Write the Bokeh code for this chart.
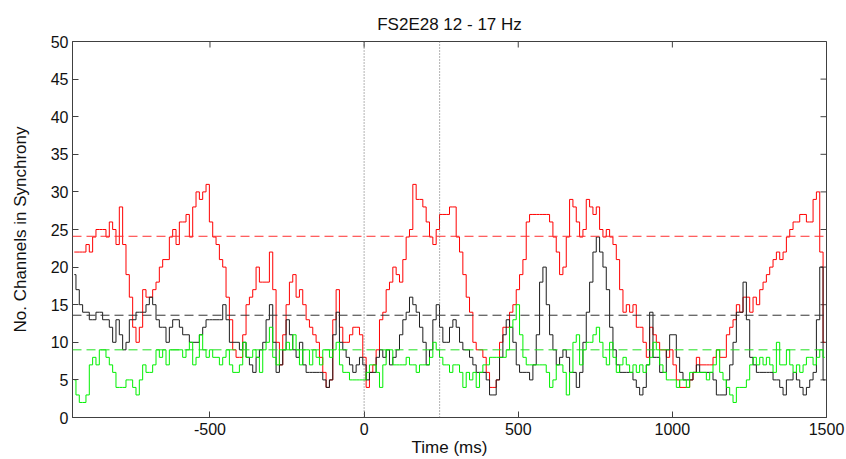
import numpy as np
from bokeh.plotting import figure
from bokeh.models import Span, FixedTicker, Range1d
from bokeh.embed import file_html
from bokeh.resources import INLINE

# ---------------- data ----------------
TITLE = "FS2E28 12 - 17 Hz"
X_LABEL = "Time (ms)"
Y_LABEL = "No. Channels in Synchrony"

X_MIN, X_MAX = -946, 1500
Y_MIN, Y_MAX = 0, 50
x_ticks = [-500, 0, 500, 1000, 1500]
x_tick_labels = {-500: "-500", 0: "0", 500: "500", 1000: "1000", 1500: "1500"}
y_ticks = [0, 5, 10, 15, 20, 25, 30, 35, 40, 45, 50]

# sampling of the traces (ms)
T0 = -940.2
DT = 10.82

red_counts = [
    22, 22, 22, 22, 23, 22, 24, 25, 25, 25,
    24, 26, 25, 23, 28, 23, 19, 16, 12, 10,
    12, 17, 16, 16, 17, 18, 20, 21, 21, 24,
    25, 23, 26, 26, 27, 24, 28, 30, 29, 30,
    31, 26, 24, 23, 21, 20, 16, 13, 9, 8,
    8, 11, 15, 16, 17, 20, 18, 18, 18, 22,
    17, 10, 7, 11, 15, 18, 19, 16, 17, 15,
    13, 12, 11, 10, 8, 6, 4, 5,
    13, 17, 12, 10, 10, 11, 12, 12, 11,
    8, 4, 6, 7, 9, 13, 14, 17, 18, 20,
    19, 18, 21, 24, 25, 31, 29, 29, 28, 26,
    24, 23, 25, 27, 27, 27, 28, 28, 24, 22,
    19, 16, 14, 10, 9, 9, 8, 6, 4, 4,
    5, 10, 12, 12, 14, 15, 17, 19, 21, 26,
    27, 27, 27, 27, 27, 27, 26, 24, 22, 19,
    20, 24, 29, 28, 26, 24,
    25, 29, 28, 27, 28, 25, 24, 25, 24,
    23, 21, 17, 14, 15, 14, 15, 12, 12, 10,
    8, 12, 11, 10, 9, 9, 8, 9, 7, 5,
    4, 4, 4, 5, 6, 8, 7, 7, 7, 7,
    8, 9, 8, 8, 11, 12, 13, 15, 14, 16,
    16, 14, 16, 15, 17, 18, 19, 20, 21, 22,
    21, 22, 24, 25, 26, 26, 27, 27, 26, 26,
    29, 30, 22, 10,
]

black_counts = [
    19, 17, 15, 14, 14, 13, 13, 14, 14, 13,
    13, 12, 10, 13, 11, 9, 10, 13, 13, 14,
    14, 14, 15, 16, 15, 13, 12, 12, 10, 12,
    13, 13, 12, 11, 11, 10, 10, 10, 11, 12,
    13, 13, 13, 13, 13, 15, 13, 10, 10, 10,
    9, 10, 8, 7, 6, 8, 9, 10, 13, 15,
    10, 6, 7, 9, 13, 11, 9, 8, 10, 7,
    6, 6, 6, 6, 6, 5, 4, 5,
    11, 14, 10, 9, 8, 7, 6, 7, 8,
    7, 5, 6, 6, 8, 9, 8, 9, 7, 8,
    9, 11, 13, 14, 16, 15, 14, 12, 10, 7,
    9, 13, 15, 12, 10, 10, 12, 13, 12, 10,
    9, 9, 8, 7, 6, 6, 6, 5, 3, 3,
    5, 8, 11, 13, 12, 10, 7, 6, 6, 6,
    5, 7, 11, 18, 20, 15, 11, 9, 7, 8,
    9, 8, 6, 6, 4, 6,
    10, 14, 18, 22, 24, 22, 20, 17, 12,
    9, 7, 6, 6, 6, 6, 5, 4, 3, 4,
    7, 14, 8, 8, 6, 6, 9, 11, 11, 8,
    6, 5, 5, 5, 6, 7, 6, 6, 6, 6,
    5, 3, 3, 3, 5, 7, 10, 14, 14, 18,
    13, 8, 7, 6, 6, 6, 6, 6, 5, 5,
    4, 3, 5, 5, 6, 5, 4, 3, 4, 5,
    6, 13, 20, 5,
]

green_counts = [
    5, 3, 2, 2, 3, 7, 8, 7, 9, 9,
    8, 7, 6, 4, 4, 4, 5, 5, 4, 3,
    5, 7, 6, 6, 7, 9, 8, 9, 7, 9,
    9, 9, 9, 8, 9, 10, 7, 8, 11, 9,
    8, 9, 8, 8, 7, 8, 9, 7, 6, 6,
    7, 10, 8, 8, 9, 8, 6, 9, 10, 12,
    8, 7, 9, 9, 10, 9, 11, 9, 7, 9,
    9, 7, 9, 8, 7, 9, 9, 8,
    9, 10, 7, 6, 6, 5, 5, 5, 5,
    5, 6, 7, 7, 6, 4, 7, 9, 9, 7,
    7, 7, 7, 8, 7, 7, 6, 7, 7, 7,
    8, 10, 9, 8, 7, 7, 6, 7, 7, 6,
    4, 6, 5, 6, 4, 6, 7, 7, 8, 8,
    8, 8, 8, 9, 12, 13, 15, 11, 8, 7,
    7, 7, 7, 7, 7, 6, 4, 5, 7, 7,
    6, 3, 6, 10, 11, 7,
    9, 10, 10, 11, 12, 10, 8, 7, 10,
    8, 6, 7, 8, 7, 6, 7, 6, 7, 6,
    7, 8, 10, 9, 7, 6, 5, 5, 5, 4,
    5, 5, 4, 6, 6, 6, 6, 6, 5, 6,
    7, 9, 6, 5, 4, 3, 2, 4, 4, 4,
    5, 7, 8, 7, 8, 7, 8, 7, 6, 10,
    7, 7, 9, 7, 6, 7, 6, 7, 8, 8,
    7, 8, 9, 8,
]

# mean levels (dashed) and event markers (dotted)
red_mean = 24.1
black_mean = 13.6
green_mean = 9.0
event_times = [0, 245]

RED = "#ff0000"
BLACK = "#1e1e1e"
GREEN = "#00f000"
AXIS = "#404040"
FONT = "Liberation Sans"

# ---------------- figure ----------------
p = figure(width=846, height=459, output_backend="svg", toolbar_location=None,
           x_range=Range1d(X_MIN, X_MAX), y_range=Range1d(Y_MIN, Y_MAX),
           min_border_left=72, min_border_right=20, min_border_top=41,
           min_border_bottom=42, title=TITLE)
p.background_fill_color = "white"
p.border_fill_color = "white"
p.grid.visible = False
p.outline_line_color = AXIS
p.outline_line_width = 1

p.title.align = "center"
p.title.text_font = FONT
p.title.text_font_size = "17px"
p.title.text_font_style = "normal"
p.title.text_color = "#111111"
p.title.standoff = 16

def style_axis(ax, ticks):
    ax.ticker = FixedTicker(ticks=ticks)
    ax.axis_line_color = AXIS
    ax.major_tick_line_color = AXIS
    ax.major_tick_in = 6
    ax.major_tick_out = 0
    ax.minor_tick_line_color = None
    ax.major_label_text_font = FONT
    ax.major_label_text_color = "#111111"
    ax.major_label_text_font_size = "16px"

xa = p.xaxis[0]
style_axis(xa, x_ticks)
xa.major_label_overrides = x_tick_labels
xa.major_label_standoff = 5
xa.axis_label = X_LABEL
xa.axis_label_text_font = FONT
xa.axis_label_text_font_size = "17px"
xa.axis_label_text_font_style = "normal"
xa.axis_label_text_color = "#111111"
xa.axis_label_standoff = 0

ya = p.yaxis[0]
style_axis(ya, y_ticks)
ya.major_label_standoff = 4
ya.axis_label = Y_LABEL
ya.axis_label_text_font = FONT
ya.axis_label_text_font_size = "17px"
ya.axis_label_text_font_style = "normal"
ya.axis_label_text_color = "#111111"
ya.axis_label_standoff = 18

# inward ticks on the top and right edges of the box (outer half is clipped)
p.scatter(x=x_ticks, y=[Y_MAX] * len(x_ticks), marker="dash", size=12,
          angle=np.pi / 2, line_color=AXIS, line_width=1)
p.scatter(x=[X_MAX] * len(y_ticks), y=y_ticks, marker="dash", size=12,
          line_color=AXIS, line_width=1)

# ---------------- traces ----------------
def times_for(vals):
    return T0 + DT * np.arange(len(vals))

p.step(times_for(red_counts), red_counts, mode="center", line_color=RED, line_width=1)
p.step(times_for(black_counts), black_counts, mode="center", line_color=BLACK, line_width=1)
p.step(times_for(green_counts), green_counts, mode="center", line_color=GREEN, line_width=1)

for level, col in [(red_mean, "#ff3030"), (black_mean, "#333333"), (green_mean, "#20e020")]:
    p.add_layout(Span(location=level, dimension="width", line_color=col,
                      line_width=1, line_dash="9 5"))

for t in event_times:
    p.add_layout(Span(location=t, dimension="height", line_color="#666666",
                      line_width=1, line_dash="1 2"))

open("out.html", "w").write(file_html(p, INLINE))
